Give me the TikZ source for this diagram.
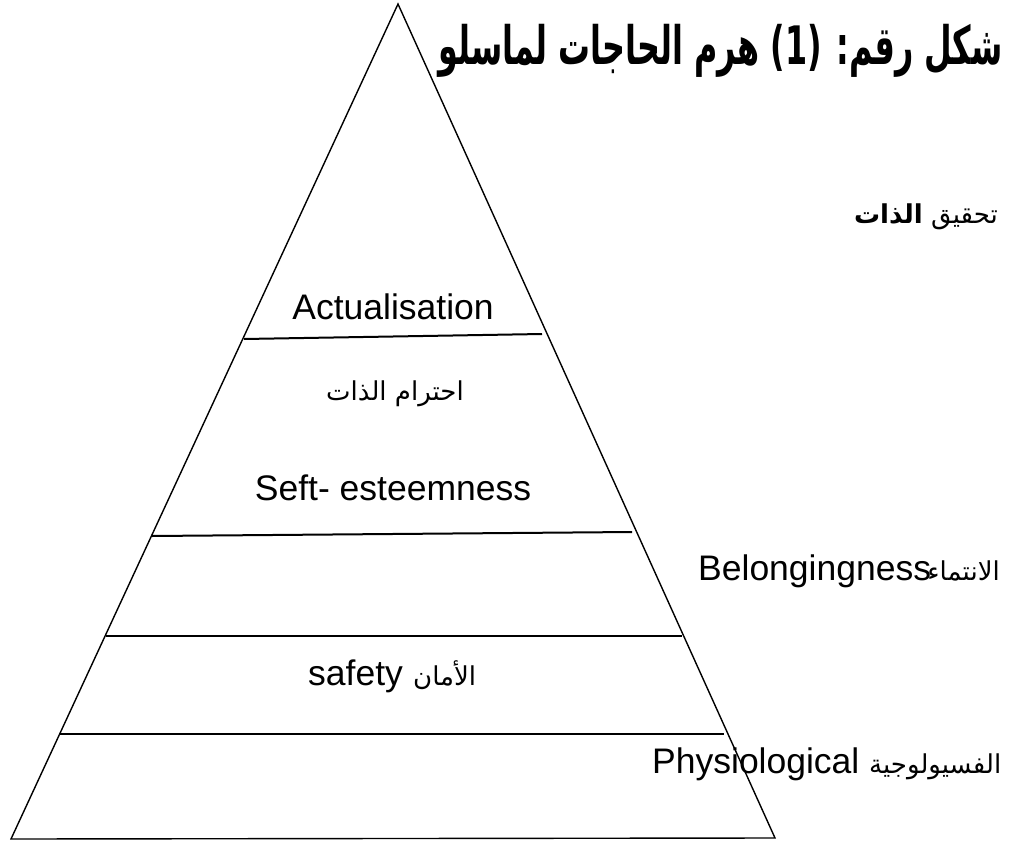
\documentclass[tikz,border=0pt]{standalone}
\usepackage{fontspec}
\setmainfont{Liberation Sans}
\newfontfamily\arabicfont[Script=Arabic]{DejaVu Sans}
\newfontfamily\titlefont[Script=Arabic,FakeStretch=0.6]{DejaVu Sans}
\TeXXeTstate=1
\begin{document}
\begin{tikzpicture}[x=1pt,y=-1pt,
  lat/.style={font=\fontsize{35.5}{40}\selectfont, inner sep=0pt},
  ar/.style={font=\arabicfont\fontsize{26}{30}\selectfont, inner sep=0pt},
  ttl/.style={font=\titlefont\bfseries\fontsize{53}{60}\selectfont, inner sep=0pt},
  side/.style={line width=1.4pt},
  band/.style={line width=2pt}]
\useasboundingbox (0,0) rectangle (1009,843);
% triangle
\coordinate (apex) at (398,4);
\coordinate (bl) at (11,839);
\coordinate (br) at (775,838);
\draw[side, line join=miter] (apex) -- (bl) -- (br) -- cycle;
% band lines
\coordinate (l1a) at (244,339); \coordinate (l1b) at (542,334);
\coordinate (l2a) at (152,536); \coordinate (l2b) at (632,532);
\coordinate (l3a) at (106,636); \coordinate (l3b) at (682,636);
\coordinate (l4a) at (60,734);  \coordinate (l4b) at (724,734);
\draw[band] (l1a) -- (l1b);
\draw[band] (l2a) -- (l2b);
\draw[band] (l3a) -- (l3b);
\draw[band] (l4a) -- (l4b);
% texts
\node[ttl, anchor=base east] (title) at (1003,64) {\beginR شكل رقم: (1) هرم الحاجات لماسلو\endR};
\node[ar, anchor=base east] (tahqiq) at (998,223) {\beginR تحقيق {\bfseries الذات}\endR};
\node[lat, anchor=base] (actual) at (393,319) {Actualisation};
\node[ar, anchor=base] (ihtiram) at (395,400) {\beginR احترام الذات\endR};
\node[lat, anchor=base] (seft) at (393,500) {Seft- esteemness};
\node[lat, anchor=base west] (belongL) at (698,580) {Belongingness};
\node[ar, anchor=base east] (belongA) at (1000,580) {\beginR الانتماء\endR};
\node[lat, anchor=base west] (safetyL) at (308,685) {safety};
\node[ar, anchor=base west] (safetyA) at (413,685) {\beginR الأمان\endR};
\node[lat, anchor=base west] (physL) at (652,773) {Physiological};
\node[ar, anchor=base west] (physA) at (869,773) {\beginR الفسيولوجية\endR};
\end{tikzpicture}
\end{document}
